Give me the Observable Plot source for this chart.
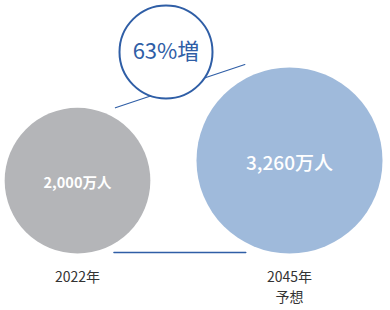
<!DOCTYPE html>
<html><head><meta charset="utf-8">
<script src="https://cdn.jsdelivr.net/npm/d3@7"></script>
<script src="https://cdn.jsdelivr.net/npm/@observablehq/plot@0.6"></script>
<style>
html,body{margin:0;padding:0;background:#fff;}
svg{font-family:"Noto Sans CJK JP","Noto Sans",sans-serif;}
</style>
</head><body>
<div id="chart"></div>
<script>
const years = ["2022年", "2045年"];
const notes = ["", "予想"];
const values = [2000, 3260]; // 万人
const valueLabels = ["2,000万人", "3,260万人"];
const increaseLabel = Math.round((values[1] / values[0] - 1) * 100) + "%増";

const data = years.map((y, i) => ({year: y, note: notes[i], value: values[i], label: valueLabels[i]}));

const W = 390, H = 310, base = 253;
const xs = d3.scalePoint().domain(years).range([77, 289]);
const rs = d3.scaleSqrt().domain([0, 3260]).range([0, 93]);
const cx = d => xs(d.year), r = d => rs(d.value), cy = d => base - rs(d.value);

const a = data[0], b = data[1];
const topLine = [
  {x: cx(a) + r(a) * 0.52, y: cy(a) - r(a)},
  {x: cx(b) - r(b) * 0.48, y: cy(b) - r(b) - 3}
];
const bottomLine = [
  {x: cx(a) + r(a) * 0.5, y: base - 1},
  {x: cx(b) - r(b) * 0.47, y: base - 1}
];
const callout = [{x: 165.5, y: 51.5, label: increaseLabel}];

const chart = Plot.plot({
  width: W, height: H,
  margin: 0,
  x: {type: "identity", axis: null},
  y: {type: "identity", axis: null},
  r: {type: "identity"},
  style: {fontFamily: '"Noto Sans CJK JP","Noto Sans",sans-serif', background: "#fff"},
  marks: [
    Plot.line(topLine, {x: "x", y: "y", stroke: "#2f5ea6", strokeWidth: 1.1}),
    Plot.line(bottomLine, {x: "x", y: "y", stroke: "#2f5ea6", strokeWidth: 1.4}),
    Plot.dot(data, {x: cx, y: cy, r: r, fill: (d, i) => i === 0 ? "#b4b5b8" : "#9fbadb", stroke: "none"}),
    Plot.text([a], {x: cx, y: d => cy(d) + 3, text: "label", fill: "#fff", fontSize: 14.5, fontWeight: 700}),
    Plot.text([b], {x: cx, y: d => cy(d) + 3, text: "label", fill: "#fff", fontSize: 19, fontWeight: 500}),
    Plot.dot(callout, {x: "x", y: "y", r: () => 46.5, fill: "#fff", stroke: "#2f5ea6", strokeWidth: 2}),
    Plot.text(callout, {x: "x", y: "y", text: "label", fill: "#2f5ea6", fontSize: 22, fontWeight: 400}),
    Plot.text(data, {x: cx, y: () => 277, text: "year", fill: "#333", fontSize: 14}),
    Plot.text(data, {x: cx, y: () => 297, text: "note", fill: "#333", fontSize: 14})
  ]
});
document.getElementById("chart").appendChild(chart);
</script>
</body></html>
